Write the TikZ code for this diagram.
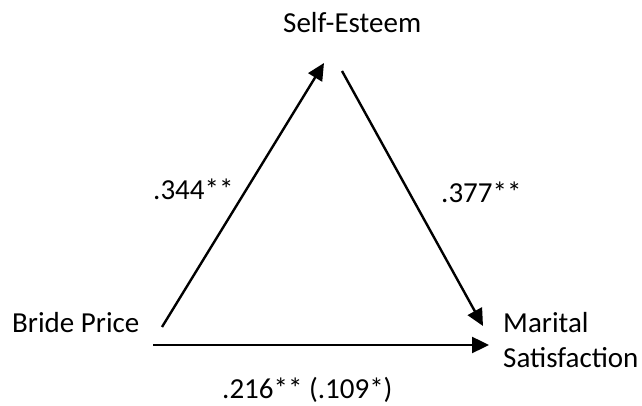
\documentclass[tikz,border=0pt]{standalone}
\usepackage{fontspec}
\setmainfont{Carlito}
\usetikzlibrary{arrows.meta}
\tikzset{
  lbl/.style={inner sep=0pt, anchor=base west, font=\fontsize{29}{35}\selectfont},
  conn/.style={line width=2.4pt, -{Triangle[length=17pt,width=16pt]}}
}
\begin{document}
\begin{tikzpicture}[x=1pt,y=1pt]
\useasboundingbox (0,0) rectangle (642,406);
\node[lbl] (se) at (283,373) {Self-Esteem};
\node[lbl] (bp) at (12,73) {Bride Price};
\node[lbl, align=left] (ms) at (503,38) {Marital\\Satisfaction};
\node[lbl] (l1) at (153,206) {.344**};
\node[lbl] (l2) at (441,203) {.377**};
\node[lbl] (l3) at (222,7) {.216** (.109*)};
\coordinate (a1s) at (162,79);
\coordinate (a1e) at (324,343);
\coordinate (a2s) at (342,335);
\coordinate (a2e) at (483,80);
\coordinate (a3s) at (153,61);
\coordinate (a3e) at (489,61);
\draw[conn] (a1s) -- (a1e);
\draw[conn] (a2s) -- (a2e);
\draw[conn] (a3s) -- (a3e);
\end{tikzpicture}
\end{document}
